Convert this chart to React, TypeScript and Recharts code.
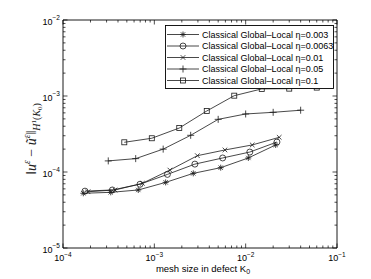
import React from 'react';
import { LineChart, Line, XAxis, YAxis, ReferenceArea, Legend } from 'recharts';

// ---------- data ----------
const legendLabels = [
  'Classical Global\u2013Local \u03b7=0.003',
  'Classical Global\u2013Local \u03b7=0.0063',
  'Classical Global\u2013Local \u03b7=0.01',
  'Classical Global\u2013Local \u03b7=0.05',
  'Classical Global\u2013Local \u03b7=0.1',
];

const eta003X = [1.67e-4, 3.33e-4, 6.67e-4, 1.33e-3, 2.67e-3, 5.33e-3, 1.07e-2, 2.13e-2];
const eta003Y = [5.25e-5, 5.4e-5, 5.8e-5, 7.3e-5, 9.6e-5, 1.14e-4, 1.53e-4, 2.27e-4];

const eta0063X = [1.74e-4, 3.47e-4, 6.97e-4, 1.39e-3, 2.78e-3, 5.6e-3, 1.11e-2, 2.2e-2];
const eta0063Y = [5.6e-5, 5.8e-5, 6.9e-5, 9.3e-5, 1.27e-4, 1.53e-4, 1.83e-4, 2.48e-4];

const eta001X = [1.88e-4, 3.71e-4, 7.4e-4, 1.48e-3, 2.96e-3, 5.93e-3, 1.18e-2, 2.33e-2];
const eta001Y = [5.5e-5, 5.8e-5, 7.1e-5, 1.06e-4, 1.64e-4, 1.95e-4, 2.27e-4, 2.86e-4];

const eta005X = [3.13e-4, 6.25e-4, 1.25e-3, 2.5e-3, 5e-3, 1e-2, 2e-2, 4e-2];
const eta005Y = [1.4e-4, 1.5e-4, 2.0e-4, 3.04e-4, 4.93e-4, 5.8e-4, 6.1e-4, 6.5e-4];

const eta01X = [4.69e-4, 9.38e-4, 1.875e-3, 3.75e-3, 7.5e-3, 1.5e-2, 3e-2, 6e-2];
const eta01Y = [2.46e-4, 2.78e-4, 3.79e-4, 6.35e-4, 1.01e-3, 1.24e-3, 1.25e-3, 1.29e-3];

const xMajorTicks = [1e-4, 1e-3, 1e-2, 1e-1];
const yMajorTicks = [1e-5, 1e-4, 1e-3, 1e-2];
const xTickExponents = ['\u22124', '\u22123', '\u22122', '\u22121'];
const yTickExponents = ['\u22125', '\u22124', '\u22123', '\u22122'];
const minorMultipliers = [2, 3, 4, 5, 6, 7, 8, 9];

const xTitle = 'mesh size in defect K';
const xTitleSub = '0';

// ---------- layout ----------
const W = 371;
const H = 279;
const PLOT_LEFT = 63;
const PLOT_RIGHT = 337;
const PLOT_TOP = 20;
const PLOT_BOTTOM = 248;
const MAJOR_LEN = 4.5;
const MINOR_LEN = 2.5;
const INK = '#000';
const LINE_INK = '#1a1a1a';
const SANS = "'Liberation Sans', Arial, Helvetica, sans-serif";
const SERIF = "'Liberation Serif', 'DejaVu Serif', 'Times New Roman', serif";

const toPoints = (xs: number[], ys: number[]) => xs.map((x, i) => ({ x, y: ys[i] }));

type Shape = 'star' | 'circle' | 'cross' | 'plus' | 'square';

const series: { name: string; shape: Shape; data: { x: number; y: number }[] }[] = [
  { name: legendLabels[0], shape: 'star', data: toPoints(eta003X, eta003Y) },
  { name: legendLabels[1], shape: 'circle', data: toPoints(eta0063X, eta0063Y) },
  { name: legendLabels[2], shape: 'cross', data: toPoints(eta001X, eta001Y) },
  { name: legendLabels[3], shape: 'plus', data: toPoints(eta005X, eta005Y) },
  { name: legendLabels[4], shape: 'square', data: toPoints(eta01X, eta01Y) },
];

const minorOf = (majors: number[]) =>
  majors.slice(0, -1).flatMap((m) => minorMultipliers.map((k) => +(m * k).toPrecision(6)));

const xTicksAll = [...xMajorTicks, ...minorOf(xMajorTicks)];
const yTicksAll = [...yMajorTicks, ...minorOf(yMajorTicks)];

// ---------- markers ----------
const Marker = ({ shape, cx, cy }: { shape: Shape; cx: number; cy: number }) => {
  const sw = 0.8;
  if (cx == null || cy == null || isNaN(cx) || isNaN(cy)) return <g />;
  switch (shape) {
    case 'star': {
      const r = 3;
      const d = r * 0.72;
      return (
        <g stroke={LINE_INK} strokeWidth={sw}>
          <line x1={cx - r} y1={cy} x2={cx + r} y2={cy} />
          <line x1={cx} y1={cy - r} x2={cx} y2={cy + r} />
          <line x1={cx - d} y1={cy - d} x2={cx + d} y2={cy + d} />
          <line x1={cx - d} y1={cy + d} x2={cx + d} y2={cy - d} />
        </g>
      );
    }
    case 'circle':
      return <circle cx={cx} cy={cy} r={3} fill="none" stroke={LINE_INK} strokeWidth={sw} />;
    case 'cross': {
      const r = 2.3;
      return (
        <g stroke={LINE_INK} strokeWidth={sw}>
          <line x1={cx - r} y1={cy - r} x2={cx + r} y2={cy + r} />
          <line x1={cx - r} y1={cy + r} x2={cx + r} y2={cy - r} />
        </g>
      );
    }
    case 'plus': {
      const r = 3.5;
      return (
        <g stroke={LINE_INK} strokeWidth={sw}>
          <line x1={cx - r} y1={cy} x2={cx + r} y2={cy} />
          <line x1={cx} y1={cy - r} x2={cx} y2={cy + r} />
        </g>
      );
    }
    case 'square':
    default:
      return (
        <rect x={cx - 2.5} y={cy - 2.5} width={5} height={5} fill="none" stroke={LINE_INK} strokeWidth={sw} />
      );
  }
};

// ---------- ticks ----------
const XTick = (props: any) => {
  const { x, y, payload } = props;
  const v = payload.value;
  const mi = xMajorTicks.indexOf(v);
  const len = mi >= 0 ? MAJOR_LEN : MINOR_LEN;
  return (
    <g>
      <line x1={x} y1={y} x2={x} y2={y - len} stroke={INK} strokeWidth={0.7} />
      <line x1={x} y1={PLOT_TOP} x2={x} y2={PLOT_TOP + len} stroke={INK} strokeWidth={0.7} />
      {mi >= 0 && (
        <text x={x} y={y + 13} textAnchor="middle" fontFamily={SANS} fontSize={9} fill={INK}>
          10
          <tspan fontSize={6.5} dy={-4.5}>
            {xTickExponents[mi]}
          </tspan>
        </text>
      )}
    </g>
  );
};

const YTick = (props: any) => {
  const { x, y, payload } = props;
  const v = payload.value;
  const mi = yMajorTicks.indexOf(v);
  const len = mi >= 0 ? MAJOR_LEN : MINOR_LEN;
  return (
    <g>
      <line x1={x} y1={y} x2={x + len} y2={y} stroke={INK} strokeWidth={0.7} />
      <line x1={PLOT_RIGHT} y1={y} x2={PLOT_RIGHT - len} y2={y} stroke={INK} strokeWidth={0.7} />
      {mi >= 0 && (
        <text x={x - 3} y={y + 4.5} textAnchor="end" fontFamily={SANS} fontSize={9} fill={INK}>
          10
          <tspan fontSize={6.5} dy={-4.5}>
            {yTickExponents[mi]}
          </tspan>
        </text>
      )}
    </g>
  );
};

// ---------- titles ----------
const XTitle = () => (
  <text x={203} y={272} textAnchor="middle" fontFamily={SANS} fontSize={9.5} fill={INK}>
    {xTitle}
    <tspan fontSize={7} dy={2}>
      {xTitleSub}
    </tspan>
  </text>
);

const YTitle = () => {
  const cx = 36;
  const cy = 139;
  return (
    <text
      transform={`rotate(-90, ${cx}, ${cy})`}
      x={cx}
      y={cy}
      textAnchor="middle"
      fontFamily={SERIF}
      fontSize={14}
      fill="#222"
    >
      <tspan>{'\u2016'}</tspan>
      <tspan fontStyle="italic">u</tspan>
      <tspan fontStyle="italic" fontSize={9.5} dy={-6}>
        {'\u03b5'}
      </tspan>
      <tspan dy={6}>{' \u2212 '}</tspan>
      <tspan fontStyle="italic">{'\u0169'}</tspan>
      <tspan fontStyle="italic" fontSize={9.5} dy={-6}>
        {'\u03b5'}
      </tspan>
      <tspan dy={6}>{'\u2016'}</tspan>
      <tspan fontStyle="italic" fontSize={10} dy={3.5}>
        H
      </tspan>
      <tspan fontSize={7} dy={-3.5}>
        1
      </tspan>
      <tspan fontSize={10} dy={3.5}>
        (
      </tspan>
      <tspan fontStyle="italic" fontSize={10}>
        K
      </tspan>
      <tspan fontSize={7} dy={2}>
        0
      </tspan>
      <tspan fontSize={10} dy={-2}>
        )
      </tspan>
    </text>
  );
};

// ---------- legend ----------
const LEG_W = 168;
const LEG_H = 63;
const LegendBox = () => (
  <svg width={LEG_W + 1} height={LEG_H + 1} style={{ display: 'block' }}>
    <rect x={0.5} y={0.5} width={LEG_W} height={LEG_H} fill="#fff" stroke={INK} strokeWidth={0.9} />
    {series.map((s, i) => {
      const cy = 9.5 + i * 11.5;
      return (
        <g key={s.name}>
          <line x1={2} y1={cy} x2={34} y2={cy} stroke={LINE_INK} strokeWidth={0.8} />
          <Marker shape={s.shape} cx={18} cy={cy} />
          <text x={37} y={cy + 3.2} fontFamily={SANS} fontSize={9} fill={INK}>
            {s.name}
          </text>
        </g>
      );
    })}
  </svg>
);

export default function App() {
  return (
    <div style={{ position: 'fixed', left: 0, top: 0, width: W, height: H, background: '#fff' }}>
      <LineChart
        width={W}
        height={H}
        margin={{ top: PLOT_TOP, right: W - PLOT_RIGHT, bottom: 0, left: 0 }}
      >
        <XAxis
          dataKey="x"
          type="number"
          scale="log"
          domain={[xMajorTicks[0], xMajorTicks[xMajorTicks.length - 1]]}
          allowDataOverflow
          ticks={xTicksAll}
          interval={0}
          tickSize={0}
          tickMargin={0}
          tickLine={false}
          axisLine={false}
          tick={XTick}
          height={H - PLOT_BOTTOM}
          label={XTitle}
        />
        <YAxis
          dataKey="y"
          type="number"
          scale="log"
          domain={[yMajorTicks[0], yMajorTicks[yMajorTicks.length - 1]]}
          allowDataOverflow
          ticks={yTicksAll}
          interval={0}
          tickSize={0}
          tickMargin={0}
          tickLine={false}
          axisLine={false}
          tick={YTick}
          width={PLOT_LEFT}
          label={YTitle}
        />
        <ReferenceArea
          x1={xMajorTicks[0]}
          x2={xMajorTicks[xMajorTicks.length - 1]}
          y1={yMajorTicks[0]}
          y2={yMajorTicks[yMajorTicks.length - 1]}
          fill="none"
          fillOpacity={0}
          stroke={INK}
          strokeWidth={0.9}
          ifOverflow="visible"
        />
        {series.map((s) => (
          <Line
            key={s.name}
            name={s.name}
            data={s.data}
            dataKey="y"
            stroke={LINE_INK}
            strokeWidth={0.8}
            isAnimationActive={false}
            activeDot={false}
            dot={(p: any) => <Marker key={`${s.shape}-${p.index}`} shape={s.shape} cx={p.cx} cy={p.cy} />}
          />
        ))}
        <Legend
          layout="vertical"
          align="center"
          verticalAlign="middle"
          content={LegendBox}
          wrapperStyle={{ left: 165, top: 25, width: LEG_W + 1, height: LEG_H + 1, right: 'auto', bottom: 'auto' }}
        />
      </LineChart>
    </div>
  );
}
